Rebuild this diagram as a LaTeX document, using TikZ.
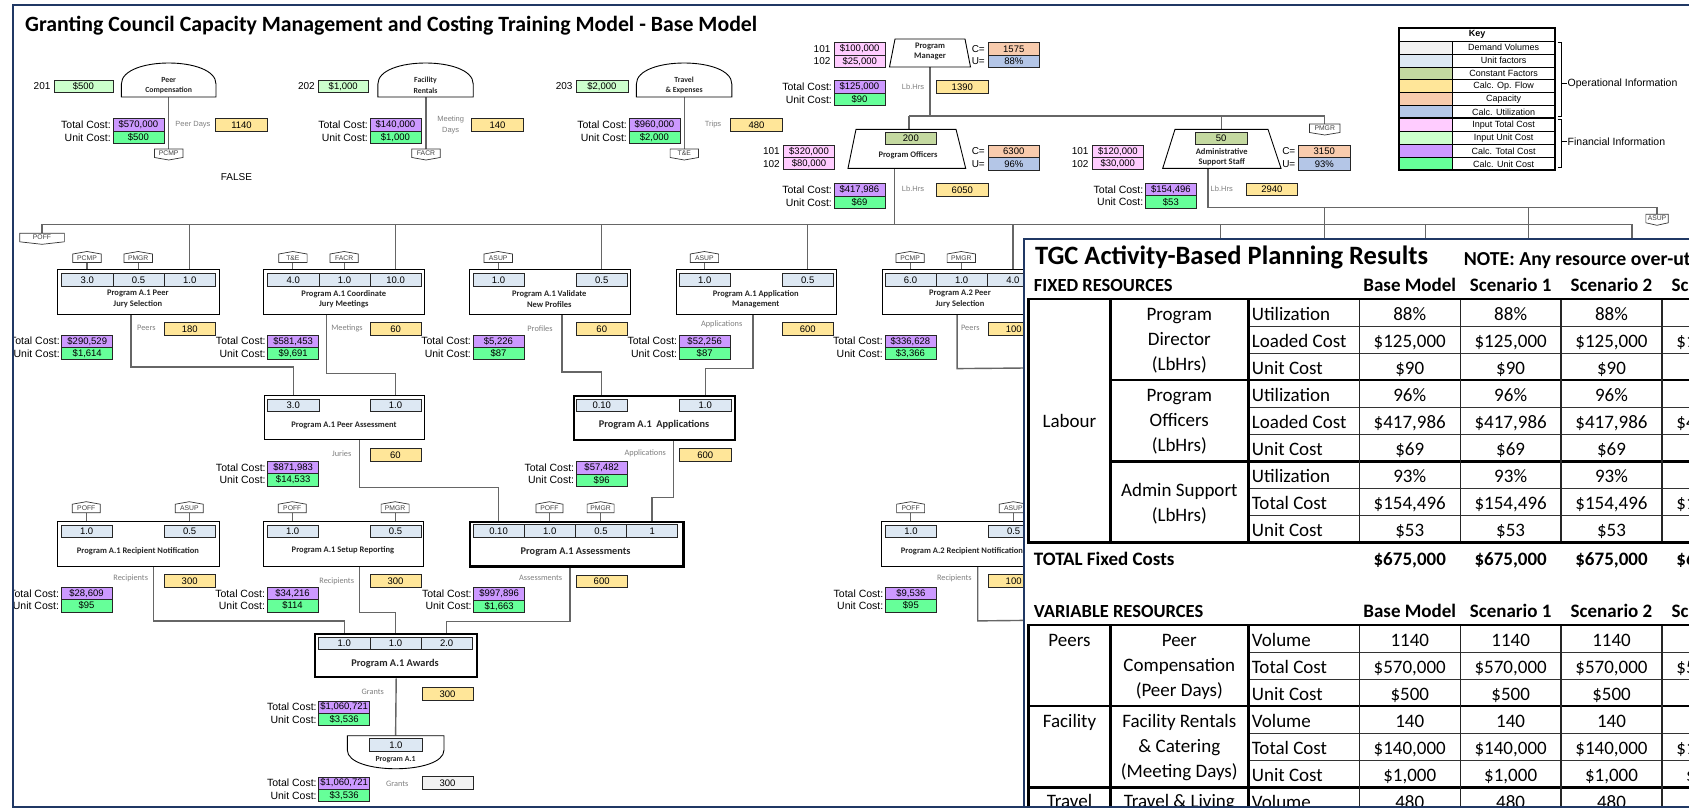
\documentclass[tikz,border=0pt]{standalone}
\usepackage{fontspec}
\setmainfont{Carlito}
\newfontfamily\arialf{Liberation Sans}
\usetikzlibrary{calc}
\pgfdeclarelayer{bg}
\pgfdeclarelayer{fg}
\pgfsetlayers{bg,main,fg}

\definecolor{framenavy}{HTML}{203864}
\definecolor{cDemand}{HTML}{F2F2F2}
\definecolor{cUnit}{HTML}{DDE8F3}
\definecolor{cConst}{HTML}{C4D9A0}
\definecolor{cFlow}{HTML}{FFE699}
\definecolor{cCap}{HTML}{F8CBAD}
\definecolor{cUtil}{HTML}{B4C6E7}
\definecolor{cInTot}{HTML}{FFCCFF}
\definecolor{cInUnit}{HTML}{CCFFCC}
\definecolor{cCalcTot}{HTML}{CC99FF}
\definecolor{cCalcUnit}{HTML}{66FF99}
\definecolor{connc}{HTML}{666666}
\definecolor{lblgray}{HTML}{808080}

\tikzset{
  vb/.style={draw=black!85, line width=0.7pt, inner sep=0pt, anchor=north west,
    font=\arialf\fontsize{9.5}{10}\selectfont},
  lab/.style={inner sep=0pt, anchor=east, font=\arialf\fontsize{10.5}{11}\selectfont},
  num/.style={inner sep=0pt, font=\arialf\fontsize{10}{11}\selectfont},
  glab/.style={inner sep=0pt, text=lblgray, align=center, font=\arialf\fontsize{7.5}{11.5}\selectfont},
  clab/.style={inner sep=0pt, text=lblgray, font=\fontsize{8.3}{9}\selectfont},
  conn/.style={draw=connc, line width=1.4pt},
  tagline/.style={draw=connc, line width=1.1pt},
  actbox/.style={draw=black, line width=0.9pt, fill=white, inner sep=0pt, anchor=north west},
  keyact/.style={actbox, line width=2.4pt},
  acttitle/.style={inner sep=0pt, align=center, text=black!85, font=\bfseries\fontsize{8.5}{10.5}\selectfont},
  keytitle/.style={acttitle, font=\bfseries\fontsize{10.3}{12}\selectfont},
  shptitle/.style={acttitle, font=\bfseries\fontsize{7.8}{10.5}\selectfont},
  tagtext/.style={inner sep=0pt, text=black!75, font=\arialf\fontsize{6.8}{7}\selectfont},
  tagshape/.style={draw=black!80, line width=0.7pt, fill=white},
  shp/.style={draw=black, line width=0.9pt, fill=white},
  keycell/.style={draw=black, line width=0.6pt, inner sep=0pt, anchor=north west, minimum height=12.93,
    font=\arialf\fontsize{9}{10}\selectfont},
  tcell/.style={inner sep=0pt, text height=12.2pt, text depth=0pt, font=\fontsize{19}{22}\selectfont},
  thead/.style={inner sep=0pt, anchor=base, font=\bfseries\fontsize{19}{22}\selectfont},
  tline/.style={line width=0.9pt, draw=black!80},
  gline/.style={line width=2.6pt, draw=black},
  vline/.style={line width=1.3pt, draw=black!85},
}

% value box from corner (#2,#3) to (#4,#5)
\newcommand\VBx[7]{\node[vb, fill=#6, minimum width={#4-#2}, minimum height={#5-#3}] (#1) at (#2,#3) {#7};}
% total / unit cost pair with labels
\newcommand\CostPair[5]{%
  \node[vb, fill=cCalcTot, minimum width=51, minimum height=12.4] (#1t) at (#2,#3) {#4};
  \node[vb, fill=cCalcUnit, minimum width=51, minimum height=12.4] (#1u) at (#2,{#3+12.4}) {#5};
  \node[lab] (#1tl) at ([xshift=-1.5pt]#1t.west) {Total Cost:};
  \node[lab] (#1ul) at ([xshift=-1.5pt]#1u.west) {Unit Cost:};}
% account 101 / 102 input costs
\newcommand\InPair[5]{%
  \node[vb, fill=cInTot, minimum width=51.5, minimum height=12.2] (#1a) at (#2,#3) {#4};
  \node[vb, fill=cInTot, minimum width=51.5, minimum height=12.2] (#1b) at (#2,{#3+12.2}) {#5};
  \node[num, anchor=east] (#1al) at ([xshift=-3pt]#1a.west) {101};
  \node[num, anchor=east] (#1bl) at ([xshift=-3pt]#1b.west) {102};}
% capacity / utilization
\newcommand\CapPair[5]{%
  \node[vb, fill=cCap, minimum width=51.8, minimum height=12.4] (#1c) at (#2,#3) {#4};
  \node[vb, fill=cUtil, minimum width=51.8, minimum height=12.4] (#1u) at (#2,{#3+12.4}) {#5};
  \node[num, anchor=east] (#1cl) at ([xshift=-2.5pt]#1c.west) {C=};
  \node[num, anchor=east] (#1ul) at ([xshift=-2.5pt]#1u.west) {U=};}
% resource tags: name, centre x, top y, width, text
\newcommand\TagDown[5]{%
  \draw[tagshape] ({#2-#4/2},#3) -- ({#2+#4/2},#3) -- ({#2+#4/2},{#3+8.5}) -- (#2,{#3+11}) -- ({#2-#4/2},{#3+8.5}) -- cycle;
  \node[tagtext, minimum height=8.5] (#1) at (#2,{#3+4.25}) {#5};}
\newcommand\TagUp[5]{%
  \draw[tagshape] ({#2-#4/2},{#3+11}) -- ({#2+#4/2},{#3+11}) -- ({#2+#4/2},{#3+2.5}) -- (#2,#3) -- ({#2-#4/2},{#3+2.5}) -- cycle;
  \node[tagtext, minimum height=8.5] (#1) at (#2,{#3+6.75}) {#5};}
\newcommand\UCell[4]{\node[vb, fill=cUnit, minimum width=51.2, minimum height=12.2] (#1) at (#2,#3) {#4};}
\newcommand\KeyRow[4]{%
  \node[keycell, fill=#3, minimum width=53] (#1c) at (1399,#2) {};
  \node[keycell, minimum width=102.6] (#1t) at (1452,#2) {#4};}
\newcommand\TRow[4]{%
  \node[tcell, anchor=west] (#1l) at (1251.7,#2) {#3};
  \node[tcell] (#1a) at (1409.75,#2) {#4};
  \node[tcell] (#1b) at (1510.65,#2) {#4};
  \node[tcell] (#1c) at (1611.5,#2) {#4};
  \node[tcell] (#1d) at (1712.5,#2) {#4};}

\begin{document}
\begin{tikzpicture}[x=1pt,y=-1pt]
\useasboundingbox (0,0) rectangle (1689,808);

\begin{scope}
\clip (13,5) rectangle (1689,808);

\node[anchor=base west, inner sep=0pt, font=\bfseries\fontsize{21.8}{24}\selectfont] (title) at (25,32)
  {Granting Council Capacity Management and Costing Training Model - Base Model};

% ---------- variable resources
\draw[shp] (121.4,97) -- (121.4,84) .. controls (121.4,56) and (216,56) .. (216,84) -- (216,97) -- cycle;
\node[shptitle] (pcS) at (168.7,85.5) {Peer\\Compensation};
\coordinate (pcB) at (168.7,97);
\VBx{pcin}{53.6}{80}{112.5}{92.3}{cInUnit}{\$500}
\node[num, anchor=east] (pcinl) at ([xshift=-3pt]pcin.west) {201};
\CostPair{pcc}{112.5}{118.3}{\$570,000}{\$500}
\node[glab] (pcfl) at (193,125) {Peer Days};
\VBx{pcv}{215.4}{118.3}{267}{131}{cFlow}{1140}
\TagDown{pcmp}{168.7}{149}{28.4}{PCMP}
\node[num] (false) at (236.4,176.7) {FALSE};

\draw[shp] (377.9,97) -- (377.9,84) .. controls (377.9,56) and (473.2,56) .. (473.2,84) -- (473.2,97) -- cycle;
\node[shptitle] (frS) at (425.5,85.5) {Facility\\Rentals};
\coordinate (frB) at (426,97);
\VBx{frin}{317.9}{80}{367.9}{92.3}{cInUnit}{\$1,000}
\node[num, anchor=east] (frinl) at ([xshift=-3pt]frin.west) {202};
\CostPair{frc}{369.6}{118.3}{\$140,000}{\$1,000}
\node[glab] (frfl) at (450.7,125) {Meeting\\Days};
\VBx{frv}{471.4}{118.3}{523}{131}{cFlow}{140}
\TagDown{facr}{426}{149}{28.4}{FACR}

\draw[shp] (636.4,97) -- (636.4,84) .. controls (636.4,56) and (731.8,56) .. (731.8,84) -- (731.8,97) -- cycle;
\node[shptitle] (teS) at (684.1,85.5) {Travel\\\& Expenses};
\coordinate (teB) at (684.3,97);
\VBx{tein}{575.7}{80}{627.5}{92.3}{cInUnit}{\$2,000}
\node[num, anchor=east] (teinl) at ([xshift=-3pt]tein.west) {203};
\CostPair{tec}{628.6}{118.3}{\$960,000}{\$2,000}
\node[glab] (tefl) at (713,125) {Trips};
\VBx{tev}{730.4}{118.3}{781.8}{131}{cFlow}{480}
\TagDown{tande}{684.3}{149}{28.4}{T\&E}

% ---------- labour resources
\draw[shp] (895,39) -- (965,39) -- (970.5,67) -- (889.5,67) -- cycle;
\node[acttitle] (pmS) at (930,51.5) {Program\\Manager};
\coordinate (pmB) at (930,67);
\InPair{pmi}{833.6}{42.5}{\$100,000}{\$25,000}
\CapPair{pmk}{987.5}{42.5}{1575}{88\%}
\node[glab] (pmfl) at (913,86.5) {Lb.Hrs};
\VBx{pmv}{936.4}{80.3}{987.5}{92.7}{cFlow}{1390}
\CostPair{pmc}{833.6}{80.3}{\$125,000}{\$90}

\draw[shp] (856,129.3) -- (956,129.3) -- (965.7,168.3) -- (848,168.3) -- cycle;
\VBx{pok}{884.6}{131.7}{936.4}{144}{cConst}{200}
\node[acttitle] (poS) at (908,155) {Program Officers};
\coordinate (poT) at (909,129.3);
\coordinate (poB) at (894.3,168.3);
\InPair{poi}{782.9}{145}{\$320,000}{\$80,000}
\CapPair{pocap}{987.5}{145}{6300}{96\%}
\node[glab] (pofl) at (913,189.3) {Lb.Hrs};
\VBx{pov}{936.4}{183.3}{987.5}{195.7}{cFlow}{6050}
\CostPair{poc}{833.6}{183.3}{\$417,986}{\$69}

\draw[shp] (1175,129.3) -- (1268,129.3) -- (1281,168.3) -- (1162.7,168.3) -- cycle;
\VBx{ask}{1194.6}{131.7}{1247}{144}{cConst}{50}
\node[acttitle] (asS) at (1221.7,157) {Administrative\\Support Staff};
\coordinate (asT) at (1221.5,129.3);
\coordinate (asB) at (1208,168.3);
\InPair{asi}{1091.7}{145}{\$120,000}{\$30,000}
\CapPair{ascap}{1298}{145}{3150}{93\%}
\node[glab] (asfl) at (1221.7,188.5) {Lb.Hrs};
\VBx{asv}{1246.2}{182.7}{1297}{195}{cFlow}{2940}
\CostPair{asc}{1145}{183}{\$154,496}{\$53}

\TagDown{pmgrT}{1324.7}{124}{30.4}{PMGR}
\TagDown{asupT}{1657}{214.3}{22.3}{ASUP}
\TagDown{poff}{42}{233.3}{44.7}{POFF}

% ---------- key
\node[keycell, minimum width=155.6, minimum height=12.4, font=\arialf\bfseries\fontsize{9}{10}\selectfont] (keyh) at (1399,28.3) {Key};
\KeyRow{k1}{40.7}{cDemand}{Demand Volumes}
\KeyRow{k2}{53.63}{cUnit}{Unit factors}
\KeyRow{k3}{66.56}{cConst}{Constant Factors}
\KeyRow{k4}{79.49}{cFlow}{Calc. Op. Flow}
\KeyRow{k5}{92.42}{cCap}{Capacity}
\KeyRow{k6}{105.35}{cUtil}{Calc. Utilization}
\KeyRow{k7}{118.28}{cInTot}{Input Total Cost}
\KeyRow{k8}{131.21}{cInUnit}{Input Unit Cost}
\KeyRow{k9}{144.14}{cCalcTot}{Calc. Total Cost}
\KeyRow{k10}{157.07}{cCalcUnit}{Calc. Unit Cost}
\draw[line width=2.2pt] (1399,28.3) rectangle (1554.6,170);
\draw[line width=1.8pt] (1399,118.28) -- (1554.6,118.28);
\draw[line width=0.7pt] (1557.5,42.7) -- (1561.5,42.7) -- (1561.5,116.7) -- (1557.5,116.7) (1561.5,83.3) -- (1567,83.3);
\draw[line width=0.7pt] (1557.5,119.5) -- (1561.5,119.5) -- (1561.5,167) -- (1557.5,167) (1561.5,141.7) -- (1567,141.7);
\node[anchor=west, inner sep=0pt, font=\arialf\fontsize{10.5}{12}\selectfont] (opinf) at (1567.5,83.3) {Operational Information};
\node[anchor=west, inner sep=0pt, font=\arialf\fontsize{10.5}{12}\selectfont] (fininf) at (1567.5,141.7) {Financial Information};

% ---------- activities, first row
\node[actbox, minimum width=161.6, minimum height=45] (pjs) at (57,269.3) {};
\UCell{pjs1}{61.4}{273.3}{3.0}
\UCell{pjs2}{112.6}{273.3}{0.5}
\UCell{pjs3}{163.8}{273.3}{1.0}
\node[acttitle] (pjsT) at (137.8,299) {Program A.1 Peer\\Jury Selection};
\TagUp{pjsa}{87}{251.5}{28.4}{PCMP}
\TagUp{pjsb}{138.2}{251.5}{28.4}{PMGR}
\node[clab] (pjsfl) at (146.4,328.3) {Peers};
\VBx{pjsv}{163.8}{322.3}{215}{334.6}{cFlow}{180}
\CostPair{pjsc}{61.4}{334.6}{\$290,529}{\$1,614}

\node[actbox, minimum width=161.1, minimum height=45] (cjm) at (263.2,269.3) {};
\UCell{cjm1}{267.3}{273.3}{4.0}
\UCell{cjm2}{318.5}{273.3}{1.0}
\UCell{cjm3}{369.7}{273.3}{10.0}
\node[acttitle] (cjmT) at (343.8,299) {Program A.1 Coordinate\\Jury Meetings};
\TagUp{cjma}{292.9}{251.5}{28.4}{T\&E}
\TagUp{cjmb}{344.1}{251.5}{28.4}{FACR}
\node[clab] (cjmfl) at (347,328.3) {Meetings};
\VBx{cjmv}{369.7}{322.3}{420.9}{334.6}{cFlow}{60}
\CostPair{cjmc}{267.3}{334.6}{\$581,453}{\$9,691}

\node[actbox, minimum width=161.4, minimum height=45] (val) at (468.6,269.3) {};
\UCell{val1}{472.6}{273.3}{1.0}
\UCell{val2}{575.8}{273.3}{0.5}
\node[acttitle] (valT) at (549.3,299) {Program A.1 Validate\\New Profiles};
\TagUp{vala}{498.2}{251.5}{28.4}{ASUP}
\node[clab] (valfl) at (540,328.3) {Profiles};
\VBx{valv}{575.8}{322.3}{627}{334.6}{cFlow}{60}
\CostPair{valc}{472.6}{334.6}{\$5,226}{\$87}

\node[actbox, minimum width=160.3, minimum height=45] (apm) at (675.7,269.3) {};
\UCell{apm1}{678.8}{273.3}{1.0}
\UCell{apm2}{781.8}{273.3}{0.5}
\node[acttitle] (apmT) at (755.8,299) {Program A.1 Application\\Management};
\TagUp{apma}{704.4}{251.5}{28.4}{ASUP}
\node[clab] (apmfl) at (721.7,324.5) {Applications};
\VBx{apmv}{781.8}{322.3}{833}{334.6}{cFlow}{600}
\CostPair{apmc}{678.8}{334.6}{\$52,256}{\$87}

\node[actbox, minimum width=162, minimum height=45] (pjt) at (881.7,269.3) {};
\UCell{pjt1}{884.5}{273.3}{6.0}
\UCell{pjt2}{935.7}{273.3}{1.0}
\UCell{pjt3}{986.9}{273.3}{4.0}
\node[acttitle] (pjtT) at (960,299) {Program A.2 Peer\\Jury Selection};
\TagUp{pjta}{910.1}{251.5}{28.4}{PCMP}
\TagUp{pjtb}{961.3}{251.5}{28.4}{PMGR}
\node[clab] (pjtfl) at (970.3,328.3) {Peers};
\VBx{pjtv}{987.7}{322.3}{1039}{334.6}{cFlow}{100}
\CostPair{pjtc}{884.5}{334.6}{\$336,628}{\$3,366}

% ---------- second row
\node[actbox, minimum width=160.7, minimum height=44] (pa) at (263.6,395) {};
\UCell{pa1}{267.3}{398.5}{3.0}
\UCell{pa2}{369.5}{398.5}{1.0}
\node[acttitle] (paT) at (344,425.5) {Program A.1 Peer Assessment};
\node[clab] (pafl) at (341.7,454) {Juries};
\VBx{pav}{369.5}{448.3}{420.7}{460.7}{cFlow}{60}
\CostPair{pac}{267.3}{460.7}{\$871,983}{\$14,533}

\node[keyact, minimum width=161.3, minimum height=44.5] (apl) at (572.7,394.5) {};
\UCell{apl1}{575.8}{398.5}{0.10}
\UCell{apl2}{679.3}{398.5}{1.0}
\node[keytitle] (aplT) at (654,424.5) {Program A.1\ \ Applications};
\node[clab] (aplfl) at (645.3,453.3) {Applications};
\VBx{aplv}{679.3}{448.3}{730.5}{460.7}{cFlow}{600}
\CostPair{aplc}{575.8}{461.2}{\$57,482}{\$96}

% ---------- third row
\node[actbox, minimum width=162.6, minimum height=44.7] (rn) at (56.7,521) {};
\UCell{rn1}{60.7}{524.5}{1.0}
\UCell{rn2}{163.7}{524.5}{0.5}
\node[acttitle] (rnT) at (138,551) {Program A.1 Recipient Notification};
\TagUp{rna}{86.3}{501.7}{28}{POFF}
\TagUp{rnb}{189.3}{501.7}{28}{ASUP}
\node[clab] (rnfl) at (130.7,578.3) {Recipients};
\VBx{rnv}{163.7}{574.3}{214.9}{586.7}{cFlow}{300}
\CostPair{rnc}{60.7}{586.7}{\$28,609}{\$95}

\node[actbox, minimum width=160.6, minimum height=44.7] (sr) at (262.7,521) {};
\UCell{sr1}{266.7}{524.5}{1.0}
\UCell{sr2}{369.5}{524.5}{0.5}
\node[acttitle] (srT) at (343,550.5) {Program A.1 Setup Reporting};
\TagUp{sra}{292.3}{501.7}{28}{POFF}
\TagUp{srb}{395.1}{501.7}{28}{PMGR}
\node[clab] (srfl) at (336.7,581.3) {Recipients};
\VBx{srv}{369.5}{574.3}{420.7}{586.7}{cFlow}{300}
\CostPair{src}{266.7}{586.7}{\$34,216}{\$114}

\node[keyact, minimum width=213.4, minimum height=44.5] (asm) at (468.9,520.7) {};
\UCell{asm1}{472.6}{524.3}{0.10}
\UCell{asm2}{523.8}{524.3}{1.0}
\UCell{asm3}{575}{524.3}{0.5}
\UCell{asm4}{626.2}{524.3}{1}
\node[keytitle] (asmT) at (575.6,551.7) {Program A.1 Assessments};
\TagUp{asma}{549.4}{501.7}{27}{POFF}
\TagUp{asmb}{600.6}{501.7}{27}{PMGR}
\node[clab] (asmfl) at (540.6,578.3) {Assessments};
\VBx{asmv}{575.8}{574.8}{626.8}{587.2}{cFlow}{600}
\CostPair{asmc}{473.3}{587.2}{\$997,896}{\$1,663}

\node[actbox, minimum width=162.6, minimum height=44.7] (rnt) at (880.7,521) {};
\UCell{rnt1}{885}{524.5}{1.0}
\UCell{rnt2}{987.7}{524.5}{0.5}
\node[acttitle] (rntT) at (962,551) {Program A.2 Recipient Notification};
\TagUp{rnta}{910.6}{501.7}{28}{POFF}
\TagUp{rntb}{1013.3}{501.7}{28}{ASUP}
\node[clab] (rntfl) at (954.3,578.3) {Recipients};
\VBx{rntv}{987.7}{574.3}{1038.9}{586.7}{cFlow}{100}
\CostPair{rntc}{885}{586.7}{\$9,536}{\$95}

% ---------- awards and program output
\node[keyact, minimum width=162, minimum height=43.3] (aw) at (314,632.7) {};
\UCell{aw1}{318.3}{637}{1.0}
\UCell{aw2}{369.5}{637}{1.0}
\UCell{aw3}{420.7}{637}{2.0}
\node[keytitle] (awT) at (395,663.3) {Program A.1 Awards};
\node[clab] (awfl) at (372.7,691.7) {Grants};
\VBx{awv}{421.7}{687.3}{472.7}{700}{cFlow}{300}
\CostPair{awc}{318.3}{700.5}{\$1,060,721}{\$3,536}

\draw[shp] (347.3,735.7) -- (444,735.7) -- (444,750) .. controls (444,775) and (347.3,775) .. (347.3,750) -- cycle;
\coordinate (pfT) at (395.6,735.7);
\VBx{pf1}{369.3}{738.3}{421.7}{750.7}{cUnit}{1.0}
\node[shptitle] (pfS) at (395.6,759.5) {Program A.1};
\CostPair{pfc}{318.3}{776.5}{\$1,060,721}{\$3,536}
\node[clab] (pffl) at (397.3,784.3) {Grants};
\VBx{pfv}{421.7}{776.3}{472.7}{788.9}{cDemand}{300}
\end{scope}

% ---------- connectors (drawn beneath the boxes)
\begin{pgfonlayer}{bg}
\fill[white] (0,0) rectangle (1689,808);
\draw[conn] (pcB) -- (pcmp.north);
\draw[conn] (frB) -- (facr.north);
\draw[conn] (teB) -- (tande.north);
\coordinate (hub) at (930,116);
\draw[conn] (pmB) -- (hub);
\draw[conn] (poT |- hub) -- (pmgrT.north |- hub) -- (pmgrT.north);
\draw[conn] (poT |- hub) -- (poT);
\draw[conn] (asT |- hub) -- (asT);
\coordinate (bus) at (42,224.3);
\coordinate (busR) at (1632,224.3);
\draw[conn] (poB) -- (poB |- bus);
\draw[conn] (poff.north) -- (bus) -- (busR) -- ++(0,30);
\foreach \nd in {pjs3,cjm3,val2,apm2,pjt3} \draw[conn] (\nd.north |- bus) -- (\nd.north);
\coordinate (bd1) at (1220.6,255);
\coordinate (bd2) at (1425.6,255);
\draw[conn] (bd1 |- bus) -- (bd1);
\draw[conn] (bd2 |- bus) -- (bd2);
\coordinate (alin) at (1208,207.3);
\draw[conn] (asB) -- (alin) -- (asupT.north |- alin) -- (asupT.north);
\coordinate (ad1) at (1324.7,255);
\coordinate (ad2) at (1528.5,255);
\draw[conn] (ad1 |- alin) -- (ad1);
\draw[conn] (ad2 |- alin) -- (ad2);
\foreach \tg/\nd in {pjsa/pjs1,pjsb/pjs2,cjma/cjm1,cjmb/cjm2,vala/val1,apma/apm1,pjta/pjt1,pjtb/pjt2,
    rna/rn1,rnb/rn2,sra/sr1,srb/sr2,asma/asm2,asmb/asm3,rnta/rnt1,rntb/rnt2}
  \draw[tagline] (\tg.south) -- (\tg.south |- \nd.north);
\draw[conn] ([xshift=-7.4pt]pjs.south) -- ++(0,51.7) -| (pa1.north);
\draw[conn] ([xshift=-18pt]cjm.south) -- ++(0,58.4) -| (pa2.north);
\draw[conn] ([xshift=12.4pt]val.south) -- ++(0,56.7) -| (apl1.north);
\draw[conn] ([xshift=-3.5pt]apm.south) -- ++(0,53.4) -| (apl2.north);
\coordinate (pjtOut) at (1060,367.7);
\draw[conn] ([xshift=-6pt]pjt.south) -- ++(0,53.4) -- (pjtOut);
\draw[conn] ([xshift=15pt]pa.south) -- ++(0,47.7) -| (asm1.north);
\draw[conn] ([xshift=19pt]apl.south) -- ++(0,56) -| (asm4.north);
\draw[conn] ([xshift=15.3pt]rn.south) -- ++(0,54.3) -| (aw1.north);
\draw[conn] ([xshift=16.3pt]sr.south) -- ++(0,46) -| (aw2.north);
\draw[conn] ([xshift=-6.9pt]asm.south) -- ++(0,54.1) -| (aw3.north);
\coordinate (rntOut) at (1060,620);
\draw[conn] ([xshift=15.3pt]rnt.south) -- ++(0,54.3) -- (rntOut);
\draw[conn] (aw.south) -- (pfT);
\end{pgfonlayer}

% ---------- results panel
\begin{pgfonlayer}{fg}
\begin{scope}
\clip (0,0) rectangle (1689,808);
\fill[white] (1024,239.3) rectangle (1700,820);
\draw[framenavy, line width=2pt] (1024,820) -- (1024,239.3) -- (1700,239.3);
\node[anchor=base west, inner sep=0pt, font=\bfseries\fontsize{26.5}{28}\selectfont] (tgc) at (1035,264) {TGC Activity-Based Planning Results};
\node[anchor=base west, inner sep=0pt, font=\bfseries\fontsize{19.8}{22}\selectfont] (note) at (1463.7,265) {NOTE: Any resource over-utilization};
\node[anchor=base west, inner sep=0pt, font=\bfseries\fontsize{18.5}{22}\selectfont] (fixh) at (1033.7,291.7) {FIXED RESOURCES};
\node[thead] (fh1) at (1409.75,291.7) {Base Model};
\node[thead] (fh2) at (1510.65,291.7) {Scenario 1};
\node[thead] (fh3) at (1611.5,291.7) {Scenario 2};
\node[thead] (fh4) at (1712.5,291.7) {Scenario 3};

\foreach \k in {1,2,4,5,7,8} \draw[tline] (1248.2,{299+27.033*\k}) -- (1700,{299+27.033*\k});
\foreach \k in {3,6} \draw[gline] (1110.4,{299+27.033*\k}) -- (1700,{299+27.033*\k});
\foreach \x in {1359.2,1460.3,1561,1662} \draw[vline] (\x,299) -- (\x,542.3);
\draw[gline] (1110.4,299) -- (1110.4,542.3) (1248.2,299) -- (1248.2,542.3);
\draw[gline] (1028.5,299) rectangle (1720,542.3);

\node[tcell] (labour) at (1069.5,421) {Labour};
\node[tcell] (pd1) at (1179.3,314) {Program};
\node[tcell] (pd2) at (1179.3,339) {Director};
\node[tcell] (pd3) at (1179.3,364) {(LbHrs)};
\node[tcell] (po1) at (1179.3,395.5) {Program};
\node[tcell] (po2) at (1179.3,420.5) {Officers};
\node[tcell] (po3) at (1179.3,445.5) {(LbHrs)};
\node[tcell] (as1) at (1179.3,490.5) {Admin Support};
\node[tcell] (as2) at (1179.3,515) {(LbHrs)};
\TRow{f0}{314}{Utilization}{88\%}
\TRow{f1}{341}{Loaded Cost}{\$125,000}
\TRow{f2}{368.1}{Unit Cost}{\$90}
\TRow{f3}{395.1}{Utilization}{96\%}
\TRow{f4}{422.1}{Loaded Cost}{\$417,986}
\TRow{f5}{449.2}{Unit Cost}{\$69}
\TRow{f6}{476.2}{Utilization}{93\%}
\TRow{f7}{503.2}{Total Cost}{\$154,496}
\TRow{f8}{530.3}{Unit Cost}{\$53}

\node[anchor=base west, inner sep=0pt, font=\bfseries\fontsize{19}{22}\selectfont] (totfix) at (1033.7,565) {TOTAL Fixed Costs};
\node[thead] (tf1) at (1409.75,565) {\$675,000};
\node[thead] (tf2) at (1510.65,565) {\$675,000};
\node[thead] (tf3) at (1611.5,565) {\$675,000};
\node[thead] (tf4) at (1712.5,565) {\$675,000};

\node[anchor=base west, inner sep=0pt, font=\bfseries\fontsize{18.5}{22}\selectfont] (varh) at (1033.7,617.3) {VARIABLE RESOURCES};
\node[thead] (vh1) at (1409.75,617.3) {Base Model};
\node[thead] (vh2) at (1510.65,617.3) {Scenario 1};
\node[thead] (vh3) at (1611.5,617.3) {Scenario 2};
\node[thead] (vh4) at (1712.5,617.3) {Scenario 3};

\foreach \k in {1,2,4,5,7,8} \draw[tline] (1248.2,{625+27.05*\k}) -- (1700,{625+27.05*\k});
\foreach \k in {3,6} \draw[gline] (1028.5,{625+27.05*\k}) -- (1700,{625+27.05*\k});
\foreach \x in {1359.2,1460.3,1561,1662} \draw[vline] (\x,625) -- (\x,830);
\draw[gline] (1110.4,625) -- (1110.4,830) (1248.2,625) -- (1248.2,830);
\draw[gline] (1028.5,830) -- (1028.5,625) -- (1720,625);

\node[tcell] (vpeer) at (1069.5,640) {Peers};
\node[tcell] (vfac) at (1069.5,721.7) {Facility};
\node[tcell] (vtrav) at (1069.5,801.7) {Travel};
\node[tcell] (vp1) at (1179.3,640) {Peer};
\node[tcell] (vp2) at (1179.3,665.5) {Compensation};
\node[tcell] (vp3) at (1179.3,690.5) {(Peer Days)};
\node[tcell] (vf1) at (1179.3,721.7) {Facility Rentals};
\node[tcell] (vf2) at (1179.3,746.7) {\& Catering};
\node[tcell] (vf3) at (1179.3,771.7) {(Meeting Days)};
\node[tcell] (vt1) at (1179.3,801.7) {Travel \& Living};
\TRow{v0}{640}{Volume}{1140}
\TRow{v1}{667}{Total Cost}{\$570,000}
\TRow{v2}{694.1}{Unit Cost}{\$500}
\TRow{v3}{721.2}{Volume}{140}
\TRow{v4}{748.2}{Total Cost}{\$140,000}
\TRow{v5}{775.3}{Unit Cost}{\$1,000}
\TRow{v6}{802.3}{Volume}{480}

\draw[framenavy, line width=2pt] (1700,5) -- (13,5) -- (13,806.7) -- (1700,806.7);
\end{scope}
\end{pgfonlayer}
\end{tikzpicture}
\end{document}
